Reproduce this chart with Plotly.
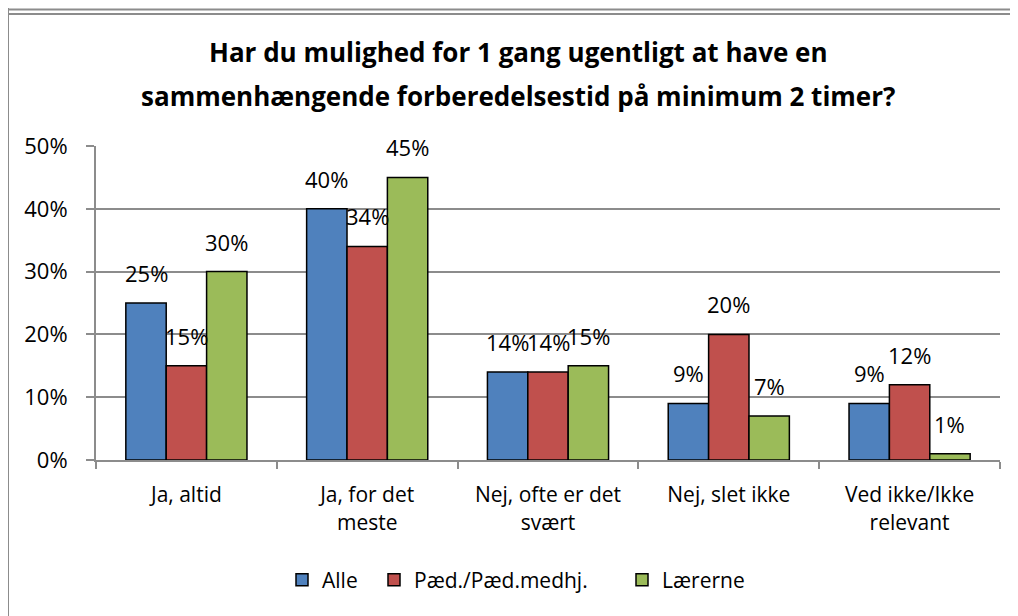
import plotly.graph_objects as go

categories = ["Ja, altid", "Ja, for det<br>meste", "Nej, ofte er det<br>svært", "Nej, slet ikke", "Ved ikke/Ikke<br>relevant"]
alle = [25, 40, 14, 9, 9]
paed = [15, 34, 14, 20, 12]
laererne = [30, 45, 15, 7, 1]
series_names = ["Alle", "Pæd./Pæd.medhj.", "Lærerne"]
colors = ["#4F81BD", "#C0504D", "#9BBB59"]
y_ticks = [0, 10, 20, 30, 40, 50]
title_lines = ["Har du mulighed for 1 gang ugentligt at have en",
               "sammenhængende forberedelsestid på minimum 2 timer?"]

# page has an 8px body margin; work in page pixels and subtract it
OFF = 8
W, H = 1018 - OFF, 616 - OFF
L, R, T, B = 96 - OFF, 1000 - OFF, 146 - OFF, 460 - OFF
FONT = "Open Sans"
GRAY = "#8C8C8C"
BARGAP = 0.33

def px(x):
    return (x - OFF - L) / (R - L)

def py(y):
    return (B - (y - OFF)) / (B - T)

legend_keys = ["legend", "legend2", "legend3"]
legend_sym_x = [302, 394, 642]

all_series = [alle, paed, laererne]
fig = go.Figure()
for name, vals, col, lk in zip(series_names, all_series, colors, legend_keys):
    fig.add_trace(go.Bar(
        x=categories, y=vals, name=name, legend=lk,
        marker=dict(color=col, line=dict(color="black", width=1.5)),
        cliponaxis=False,
    ))

shapes = [
    dict(type="line", xref="paper", yref="paper", x0=px(8), x1=px(8), y0=py(0), y1=py(630),
         line=dict(color=GRAY, width=2)),
    dict(type="line", xref="paper", yref="paper", x0=px(8), x1=px(1030), y0=py(9.5), y1=py(9.5),
         line=dict(color=GRAY, width=2)),
    dict(type="line", xref="paper", yref="paper", x0=px(8), x1=px(1030), y0=py(14), y1=py(14),
         line=dict(color=GRAY, width=2)),
]

annotations = []
for line, ycen in zip(title_lines, [52, 96]):
    annotations.append(dict(text=f"<b>{line}</b>", xref="paper", yref="paper",
                            x=px(518), y=py(ycen), xanchor="center", yanchor="middle",
                            showarrow=False, font=dict(family=FONT, size=26, color="black")))

# data labels above each bar (bar centre derived from the category index and bar width)
n_series = len(all_series)
bw = (1 - BARGAP) / n_series
for j, vals in enumerate(all_series):
    for i, v in enumerate(vals):
        annotations.append(dict(text=f"{v}%", xref="x", yref="y",
                                x=i + (j - (n_series - 1) / 2) * bw, y=v,
                                xanchor="center", yanchor="bottom", yshift=13,
                                showarrow=False, font=dict(family=FONT, size=22, color="black")))

legends = {}
for lk, sx in zip(legend_keys, legend_sym_x):
    legends[lk] = dict(orientation="h", x=px(sx - 20), xanchor="left", y=py(580), yanchor="middle",
                       font=dict(family=FONT, size=21), itemwidth=30, bgcolor="rgba(0,0,0,0)",
                       borderwidth=0)

fig.update_layout(
    width=W, height=H,
    margin=dict(l=L, r=W - R, t=T, b=H - B, autoexpand=False),
    paper_bgcolor="white", plot_bgcolor="white",
    barmode="group", bargap=BARGAP, bargroupgap=0,
    font=dict(family=FONT, size=21, color="black"),
    shapes=shapes,
    annotations=annotations,
    showlegend=True,
    **legends,
)
fig.update_xaxes(showline=True, linecolor=GRAY, linewidth=2, ticks="outside", tickson="boundaries",
                 ticklen=7, tickcolor=GRAY, tickwidth=2, showgrid=False, ticklabelstandoff=15,
                 tickfont=dict(family=FONT, size=21, color="black"))
fig.update_yaxes(range=[0, 50], tickvals=y_ticks, ticktext=[f"{v}%" for v in y_ticks],
                 showline=True, linecolor=GRAY, linewidth=2, ticks="outside", ticklen=8,
                 tickcolor=GRAY, tickwidth=2, showgrid=True, gridcolor=GRAY, gridwidth=2,
                 zeroline=False, ticklabelstandoff=14, tickfont=dict(family=FONT, size=22, color="black"))

fig.write_html("out.html")
